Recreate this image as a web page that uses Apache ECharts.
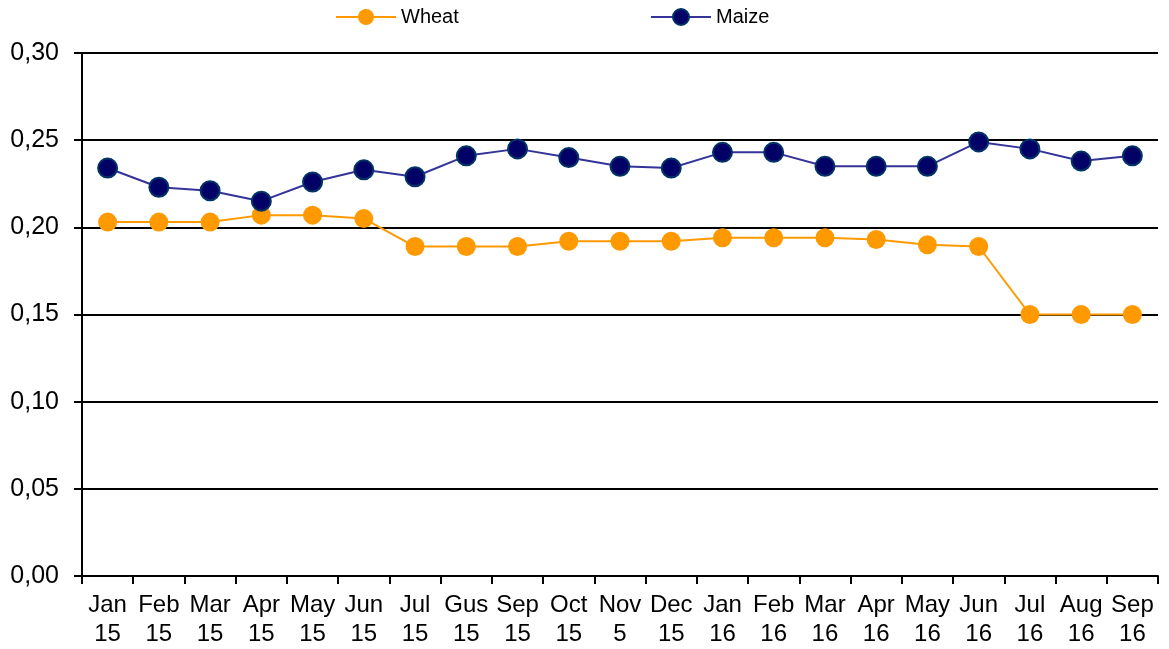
<!DOCTYPE html>
<html lang="en">
<head>
    <meta charset="UTF-8">
    <title>Wheat and Maize</title>
    <style>
        html, body {
            margin: 0;
            padding: 0;
            background: #fff;
        }
        #chart {
            width: 1169px;
            height: 649px;
        }
    </style>
    <script src="https://cdn.jsdelivr.net/npm/echarts@6/dist/echarts.min.js"></script>
</head>
<body>
    <div id="chart"></div>
    <script>
        // month labels (top line) and year labels (bottom line)
        const months = ['Jan', 'Feb', 'Mar', 'Apr', 'May', 'Jun', 'Jul', 'Gus', 'Sep', 'Oct', 'Nov',
            'Dec', 'Jan', 'Feb', 'Mar', 'Apr', 'May', 'Jun', 'Jul', 'Aug', 'Sep'];
        const years = ['15', '15', '15', '15', '15', '15', '15', '15', '15', '15', '5',
            '15', '16', '16', '16', '16', '16', '16', '16', '16', '16'];

        const wheat = [0.203, 0.203, 0.203, 0.207, 0.207, 0.205, 0.189, 0.189, 0.189, 0.192, 0.192,
            0.192, 0.194, 0.194, 0.194, 0.193, 0.190, 0.189, 0.150, 0.150, 0.150];
        const maize = [0.234, 0.223, 0.221, 0.215, 0.226, 0.233, 0.229, 0.241, 0.245, 0.240, 0.235,
            0.234, 0.243, 0.243, 0.235, 0.235, 0.235, 0.249, 0.245, 0.238, 0.241];

        const categories = months.map((m, i) => m + '\n' + years[i]);

        const font = 'Arial, "Liberation Sans", sans-serif';

        const chart = echarts.init(document.getElementById('chart'));

        const legendBase = {
            top: 2,
            itemWidth: 60,
            itemHeight: 20,
            itemGap: 0,
            textStyle: { fontFamily: font, fontSize: 20, color: '#000' }
        };

        chart.setOption({
            animation: false,
            legend: [
                Object.assign({ left: 330, data: ['Wheat'] }, legendBase),
                Object.assign({ left: 645, data: ['Maize'] }, legendBase)
            ],
            grid: {
                left: 82,
                right: 11,
                top: 53,
                bottom: 71,
                containLabel: false
            },
            xAxis: {
                type: 'category',
                data: categories,
                boundaryGap: true,
                axisLine: { lineStyle: { color: '#000', width: 2 } },
                axisTick: { show: true, length: 8, lineStyle: { color: '#000', width: 2 } },
                axisLabel: {
                    interval: 0,
                    margin: 15,
                    fontFamily: font,
                    fontSize: 24,
                    lineHeight: 29,
                    color: '#000'
                },
                splitLine: { show: false }
            },
            yAxis: {
                type: 'value',
                min: 0,
                max: 0.30,
                interval: 0.05,
                axisLine: { show: true, lineStyle: { color: '#000', width: 2 } },
                axisTick: { show: true, length: 8, lineStyle: { color: '#000', width: 2 } },
                axisLabel: {
                    margin: 23,
                    fontFamily: font,
                    fontSize: 25,
                    color: '#000',
                    formatter: v => v.toFixed(2).replace('.', ',')
                },
                splitLine: { show: true, lineStyle: { color: '#000', width: 2 } }
            },
            series: [
                {
                    name: 'Wheat',
                    type: 'line',
                    data: wheat,
                    symbol: 'circle',
                    symbolSize: 19,
                    lineStyle: { color: '#FF9900', width: 2 },
                    itemStyle: { color: '#FF9900', borderColor: '#FF9900', borderWidth: 0 }
                },
                {
                    name: 'Maize',
                    type: 'line',
                    data: maize,
                    symbol: 'circle',
                    symbolSize: 19,
                    lineStyle: { color: '#333399', width: 2 },
                    itemStyle: { color: '#000066', borderColor: '#003366', borderWidth: 2 }
                }
            ]
        });
    </script>
</body>
</html>
